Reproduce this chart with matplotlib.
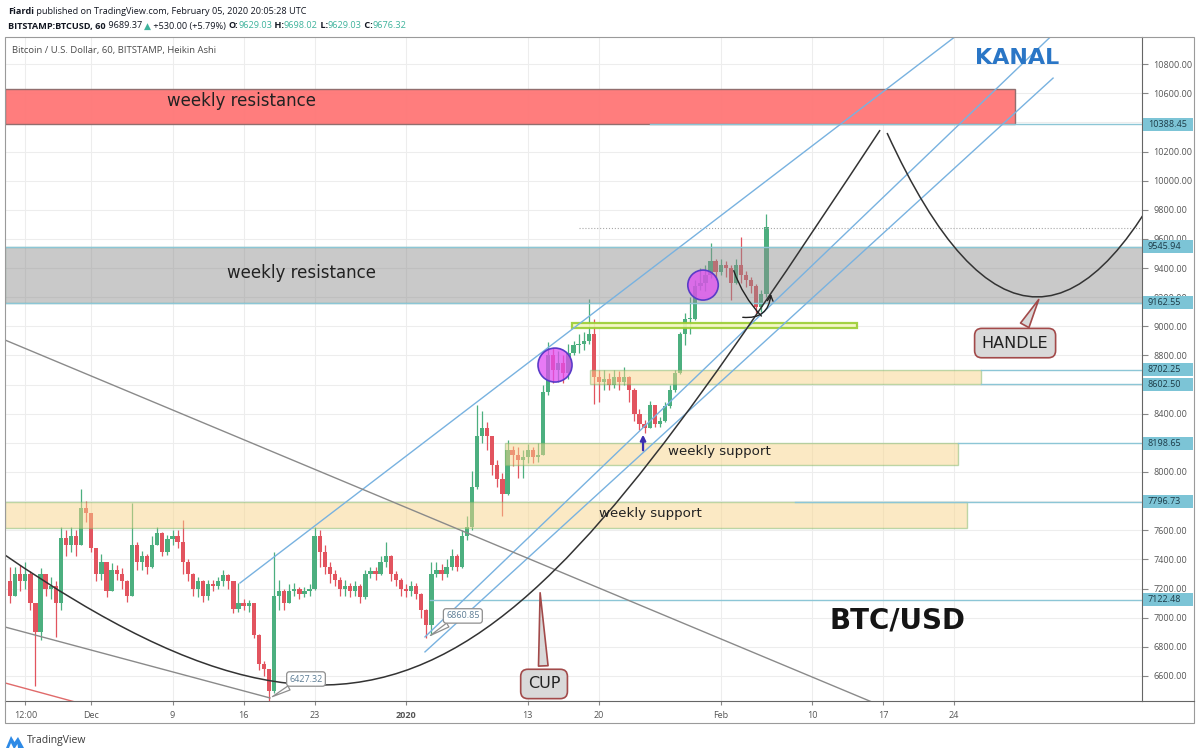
import matplotlib
matplotlib.use("Agg")
import matplotlib.pyplot as plt
import matplotlib.transforms as mtransforms
import numpy as np
import pandas as pd
from matplotlib.patches import Rectangle, Ellipse, PathPatch, Polygon
from matplotlib.path import Path

plt.rcParams["font.family"] = ["Open Sans", "DejaVu Sans"]

W, H = 1200, 755
ORIGIN = pd.Timestamp("2020-01-01")

# 12h Heikin Ashi candles, BITSTAMP BTCUSD (from 2019-11-23)
first_open = 7250
closes = [
    7150, 7300, 7250, 7300, 7100, 6900, 7300, 7200, 7220, 7100,
    7550, 7500, 7560, 7500, 7750, 7720, 7480, 7300, 7380, 7180,
    7330, 7300, 7250, 7150, 7500, 7380, 7420, 7350, 7500, 7580,
    7450, 7540, 7560, 7520, 7380, 7300, 7200, 7250, 7150, 7230,
    7220, 7250, 7290, 7250, 7060, 7100, 7080, 7100, 6880, 6680,
    6650, 6500, 7150, 7180, 7100, 7180, 7200, 7160, 7180, 7200,
    7560, 7450, 7350, 7300, 7260, 7200, 7220, 7180, 7220, 7140,
    7300, 7320, 7300, 7380, 7420, 7300, 7260, 7200, 7180, 7220,
    7160, 7050, 6950, 7300, 7330, 7300, 7350, 7420, 7350, 7560,
    7620, 7900, 8250, 8300, 8250, 8050, 7950, 7850, 8150, 8120,
    8080, 8100, 8150, 8100, 8120, 8550, 8800, 8700, 8750, 8680,
    8820, 8870, 8880, 8900, 8950, 8650, 8620, 8640, 8600, 8650,
    8620, 8650, 8560, 8400, 8330, 8300, 8460, 8330, 8350, 8450,
    8560, 8680, 8950, 9050, 9050, 9280, 9300, 9350, 9450, 9370,
    9420, 9400, 9300, 9420, 9350, 9320, 9280, 9130, 9220, 9680,
]
highs = [
    7350, 7350, 7360, 7380, 7320, 7100, 7340, 7300, 7280, 7250,
    7620, 7600, 7620, 7600, 7880, 7800, 7720, 7480, 7440, 7380,
    7375, 7360, 7340, 7260, 7790, 7520, 7460, 7440, 7560, 7620,
    7590, 7570, 7600, 7600, 7670, 7400, 7310, 7280, 7260, 7260,
    7260, 7280, 7330, 7300, 7250, 7240, 7130, 7120, 7100, 6890,
    6700, 6650, 7450, 7260, 7200, 7230, 7240, 7210, 7210, 7230,
    7620, 7600, 7500, 7380, 7330, 7280, 7260, 7240, 7250, 7230,
    7330, 7350, 7350, 7420, 7520, 7430, 7320, 7270, 7230, 7250,
    7240, 7170, 7060, 7380, 7380, 7370, 7400, 7470, 7440, 7600,
    7700, 8010, 8460, 8420, 8340, 8250, 8080, 7990, 8220, 8180,
    8170, 8150, 8190, 8170, 8200, 8600, 8890, 8850, 8830, 8800,
    8880, 8900, 8950, 8960, 9190, 9050, 8700, 8700, 8680, 8700,
    8690, 8720, 8660, 8580, 8430, 8360, 8490, 8460, 8380, 8480,
    8600, 8700, 8960, 9090, 9200, 9320, 9400, 9420, 9570, 9460,
    9460, 9450, 9420, 9460, 9610, 9380, 9340, 9290, 9250, 9770,
]
lows = [
    7100, 7150, 7180, 7200, 7050, 6530, 6850, 7150, 7130, 6870,
    7050, 7420, 7450, 7420, 7500, 7660, 7450, 7250, 7260, 7140,
    7250, 7260, 7200, 7110, 7150, 7330, 7330, 7300, 7340, 7500,
    7420, 7430, 7500, 7480, 7300, 7250, 7150, 7140, 7110, 7120,
    7180, 7200, 7220, 7200, 7030, 7040, 7050, 7040, 6860, 6640,
    6600, 6430, 6480, 7050, 7050, 7130, 7150, 7130, 7140, 7150,
    7190, 7350, 7300, 7240, 7220, 7150, 7150, 7140, 7150, 7100,
    7130, 7270, 7260, 7290, 7350, 7250, 7220, 7150, 7140, 7150,
    7130, 7000, 6860, 6880, 7280, 7260, 7280, 7330, 7320, 7340,
    7530, 7600, 7880, 8200, 8150, 7980, 7900, 7700, 7840, 8040,
    7960, 7960, 8060, 8060, 8070, 8120, 8530, 8610, 8620, 8610,
    8640, 8800, 8820, 8840, 8880, 8470, 8480, 8560, 8560, 8580,
    8560, 8600, 8480, 8350, 8290, 8265, 8300, 8310, 8310, 8340,
    8440, 8550, 8670, 8870, 8950, 9040, 9250, 9240, 9330, 9320,
    9350, 9340, 9180, 9290, 9300, 9270, 9230, 9090, 9100, 9200,
]

# horizontal price levels marked on the price scale, and where their lines start (day)
levels = [10388.45, 9545.94, 9162.55, 8702.25, 8602.50, 8198.65, 7796.73, 7122.48]
level_starts = [24.0, -39.5, -39.5, 56.6, 56.6, 54.4, 38.3, 2.4]
last_price = 9676.32

price_ticks = list(range(6600, 10801, 200))
hidden_ticks = [10400, 8600, 8200, 7800]  # covered by the level tags on the scale
date_ticks = ["2019-11-24 12:00", "2019-12-01", "2019-12-09", "2019-12-16", "2019-12-23",
              "2020-01-01", "2020-01-13", "2020-01-20", "2020-02-01", "2020-02-10",
              "2020-02-17", "2020-02-24"]
date_labels = ["12:00", "Dec", "9", "16", "23", "2020", "13", "20", "Feb", "10", "17", "24"]

# drawings (day since 2020-01-01, price)
zones = {  # name: (day0, day1, low, high)
    "red": (-39.5, 60.0, 10388.45, 10630),
    "grey": (-39.5, 80.0, 9162.55, 9545.94),
    "support_low": (-39.5, 55.3, 7615, 7796.73),
    "support_high": (9.75, 54.4, 8048, 8198.65),
    "mid_band": (18.1, 56.6, 8602.50, 8702.25),
    "green_band": (16.35, 44.4, 8990, 9020),
}
channel_top = [(-16.35, 7238), (56.0, 11090)]
channel_low1 = [(1.87, 6868), (63.45, 10985)]
channel_low2 = [(1.87, 6765), (63.74, 10704)]
grey_trend1 = [(-39.5, 8906), (48.0, 6360)]
grey_trend2 = [(-39.5, 6936), (-13.4, 6449)]
red_trend = [(-39.5, 6552), (-32.0, 6410)]
cup_ctrl = [(-39.5, 7430), (-0.1, 5543), (12.22, 6710), (46.70, 10347)]
handle_ctrl = [(47.39, 10327), (62.17, 8076), (76.95, 10327)]

dates = pd.date_range("2019-11-23", periods=len(closes), freq="12h")
x = ((dates - ORIGIN) / pd.Timedelta(days=1)).to_numpy()
c = np.array(closes, float)
o = np.r_[first_open, c[:-1]]
hi = np.maximum(np.array(highs, float), np.maximum(o, c))
lo = np.minimum(np.array(lows, float), np.minimum(o, c))
up = c >= o
col = np.where(up, "#4caf7f", "#e2545f")


def day(ts):
    return (pd.Timestamp(ts) - ORIGIN) / pd.Timedelta(days=1)


def fpx(px, py):
    return px / W, 1 - py / H


fig = plt.figure(figsize=(12, 7.55), dpi=100)
ax = fig.add_axes([5 / W, (H - 701) / H, (1142 - 5) / W, (701 - 37) / H])
ax.set_xlim(-39.5, 72.5)
ax.set_ylim(6428, 10986)
ax.set_axisbelow(True)
ax.grid(color="#ededed", lw=0.8)

# candles
ax.vlines(x, lo, hi, colors=col, lw=0.9, zorder=3)
ax.bar(x, np.maximum(np.abs(c - o), 8), bottom=np.minimum(o, c), width=0.42,
       color=col, lw=0, zorder=3)

# zones
styles = {
    "red": dict(fc="#ff7676", ec="#8c6a6a", alpha=0.95),
    "grey": dict(fc="#8e8e8e", ec="#5f9f7f", alpha=0.48),
    "support_low": dict(fc="#f8d58a", ec="#7fb86a", alpha=0.5),
    "support_high": dict(fc="#f8d58a", ec="#7fb86a", alpha=0.5),
    "mid_band": dict(fc="#f8d58a", ec="#7fb86a", alpha=0.5),
    "green_band": dict(fc="#f3f7c0", ec="#9acd32", alpha=0.9),
}
for name, (d0, d1, p0, p1) in zones.items():
    lw = 1.6 if name == "green_band" else 1.0
    ax.add_patch(Rectangle((d0, p0), d1 - d0, p1 - p0, lw=lw, zorder=4, **styles[name]))

for lvl, start in zip(levels, level_starts):
    ax.plot([start, 72.5], [lvl, lvl], color="#8cc6d6", lw=1, zorder=4)
ax.plot([17, 72.5], [last_price, last_price], color="#a8a8a8", lw=0.8, ls=":", zorder=4)

for seg in (channel_top, channel_low1, channel_low2):
    (a0, b0), (a1, b1) = seg
    ax.plot([a0, a1], [b0, b1], color="#78b2e0", lw=1.0, zorder=5)
for seg in (grey_trend1, grey_trend2):
    (a0, b0), (a1, b1) = seg
    ax.plot([a0, a1], [b0, b1], color="#8a8a8a", lw=1.0, zorder=5)
(a0, b0), (a1, b1) = red_trend
ax.plot([a0, a1], [b0, b1], color="#e06a6a", lw=1.0, zorder=5)

cup = Path(cup_ctrl, [Path.MOVETO, Path.CURVE4, Path.CURVE4, Path.CURVE4])
ax.add_patch(PathPatch(cup, fill=False, ec="#333333", lw=1.1, zorder=5))
handle = Path(handle_ctrl, [Path.MOVETO, Path.CURVE3, Path.CURVE3])
ax.add_patch(PathPatch(handle, fill=False, ec="#333333", lw=1.1, zorder=5))

# highlight circles
ax.add_patch(Ellipse((14.68, 8734), 3.35, 233, fc=(0.88, 0.3, 0.95, 0.75),
                     ec="#5a3bc8", lw=1.2, zorder=6))
ax.add_patch(Ellipse((29.26, 9283), 3.0, 206, fc=(0.88, 0.3, 0.95, 0.75),
                     ec="#5a3bc8", lw=1.2, zorder=6))

# arrows
ax.annotate("", xy=(35.2, 9057), xytext=(32.2, 9400),
            arrowprops=dict(arrowstyle="-", color="#222", lw=1.0,
                            connectionstyle="arc3,rad=0.12"), zorder=6)
ax.annotate("", xy=(35.96, 9242), xytext=(32.9, 9064),
            arrowprops=dict(arrowstyle="->", color="#222", lw=1.0,
                            connectionstyle="arc3,rad=0.55"), zorder=6)
ax.annotate("", xy=(23.35, 8275), xytext=(23.35, 8130),
            arrowprops=dict(arrowstyle="-|>", color="#3b2fb0", lw=1.6,
                            mutation_scale=8), zorder=6)

# zone labels
ax.text(-16.2, 10546, "weekly resistance", fontsize=12, color="#222", ha="center",
        va="center", zorder=7, family="DejaVu Sans")
ax.text(-10.25, 9366, "weekly resistance", fontsize=12, color="#222", ha="center",
        va="center", zorder=7, family="DejaVu Sans")
ax.text(30.9, 8144, "weekly support", fontsize=9.6, color="#222", ha="center",
        va="center", zorder=7, family="DejaVu Sans")
ax.text(24.1, 7712, "weekly support", fontsize=9.6, color="#222", ha="center",
        va="center", zorder=7, family="DejaVu Sans")
ax.text(60.2, 10841, "KANAL", fontsize=16, fontweight="bold", color="#2a76c6",
        ha="center", va="center", zorder=7, family="DejaVu Sans")
ax.text(48.4, 6984, "BTC/USD", fontsize=20, fontweight="bold", color="#151515",
        ha="center", va="center", zorder=7, family="DejaVu Sans")

# callouts
callout = dict(boxstyle="round,pad=0.45", fc="#d9d9d9", ec="#a24a4a", lw=1.2)
ax.annotate("CUP", xy=(13.2, 7190), xytext=(13.6, 6545), fontsize=11.5, ha="center",
            va="center", color="#222", bbox=callout, zorder=7, family="DejaVu Sans",
            arrowprops=dict(arrowstyle="wedge,tail_width=0.6,shrink_factor=0.5",
                            fc="#d9d9d9", ec="#a24a4a", lw=1.2))
ax.annotate("HANDLE", xy=(62.46, 9201), xytext=(60.0, 8885), fontsize=11.5, ha="center",
            va="center", color="#222", bbox=callout, zorder=7, family="DejaVu Sans",
            arrowprops=dict(arrowstyle="wedge,tail_width=0.6,shrink_factor=0.5",
                            fc="#d9d9d9", ec="#a24a4a", lw=1.2))
tag = dict(boxstyle="round,pad=0.3", fc="white", ec="#8e8e8e", lw=0.9)
for pt, txt_pos, label in [((-13.4, 6449), (-9.85, 6579), "6427.32"),
                           ((2.17, 6868), (5.6, 7012), "6860.85")]:
    ax.annotate(label, xy=pt, xytext=txt_pos, fontsize=6.5, ha="center", va="center",
                color="#5d7d95", bbox=tag, zorder=7,
                arrowprops=dict(arrowstyle="wedge,tail_width=0.5,shrink_factor=0.5",
                                fc="white", ec="#8e8e8e", lw=0.9))

# price scale
ax.yaxis.tick_right()
ax.set_yticks(price_ticks)
ax.set_yticklabels(["" if t in hidden_ticks else f"{t:.2f}" for t in price_ticks])
ax.tick_params(axis="y", length=4, color="#888", labelsize=6.5, labelcolor="#555", pad=4)
ax.set_xticks([day(t) for t in date_ticks])
ax.set_xticklabels(date_labels)
ax.tick_params(axis="x", length=3, color="#888", labelsize=6.5, labelcolor="#555", pad=4)
ax.get_xticklabels()[5].set_fontweight("bold")
for side in ("top", "left"):
    ax.spines[side].set_visible(False)
for side in ("bottom", "right"):
    ax.spines[side].set_color("#666")
    ax.spines[side].set_linewidth(0.8)

# level tags on the price scale
blend = mtransforms.blended_transform_factory(ax.transAxes, ax.transData)
tag_h = 13 * (10986 - 6428) / (701 - 37)
for lvl in levels:
    ax.add_patch(Rectangle((1.0 + 1 / 1137, lvl - tag_h / 2), 50 / 1137, tag_h,
                           transform=blend, fc="#7cc4d6", ec="none", clip_on=False, zorder=8))
    ax.text(1.0 + 6 / 1137, lvl, f"{lvl:.2f}", transform=blend, fontsize=6.5, color="#1c3a46",
            ha="left", va="center", clip_on=False, zorder=9)

# chart frame
fig.add_artist(Rectangle(fpx(5, 723), 1189 / W, 686 / H, fill=False, ec="#9a9a9a", lw=0.8,
                         transform=fig.transFigure))
fig.add_artist(plt.Line2D([1142 / W, 1194 / W], [1 - 701 / H] * 2, color="#666", lw=0.8,
                          transform=fig.transFigure))

# header
fig.canvas.draw()
renderer = fig.canvas.get_renderer()


def header(pieces, px, py, size):
    for txt, color, weight in pieces:
        t = fig.text(*fpx(px, py), txt, color=color, fontsize=size, fontweight=weight,
                     ha="left", va="center")
        px += t.get_window_extent(renderer).width


dark, teal = "#131722", "#3fb39c"
header([("Fiardi", dark, "bold"),
        (" published on TradingView.com, February 05, 2020 20:05:28 UTC", dark, "normal")],
       8, 11, 6.6)
header([("BITSTAMP:BTCUSD, 60", dark, "bold"), (" 9689.37 ", dark, "normal"),
        ("▲", teal, "normal"), (" +530.00 (+5.79%) ", dark, "normal"),
        ("O:", dark, "bold"), ("9629.03", teal, "normal"), (" H:", dark, "bold"),
        ("9698.02", teal, "normal"), (" L:", dark, "bold"), ("9629.03", teal, "normal"),
        (" C:", dark, "bold"), ("9676.32", teal, "normal")], 8, 26, 6.6)
fig.text(*fpx(12, 51), "Bitcoin / U.S. Dollar, 60, BITSTAMP, Heikin Ashi", fontsize=6.8,
         color="#4a4a4a", ha="left", va="center")

# TradingView logo
logo = [(6, 748), (11, 736), (14.5, 742), (18, 737), (24, 748), (18, 748), (17.5, 744),
        (15, 748), (13.5, 748), (11, 743), (9, 748)]
fig.add_artist(Polygon([fpx(a, b) for a, b in logo], closed=True, fc="#2e8ae6", ec="none",
                       transform=fig.transFigure))
fig.text(*fpx(27, 741), "TradingView", fontsize=7.5, color="#3a3a3a", ha="left", va="center")

fig.savefig("out.png", dpi=100, facecolor="white")
